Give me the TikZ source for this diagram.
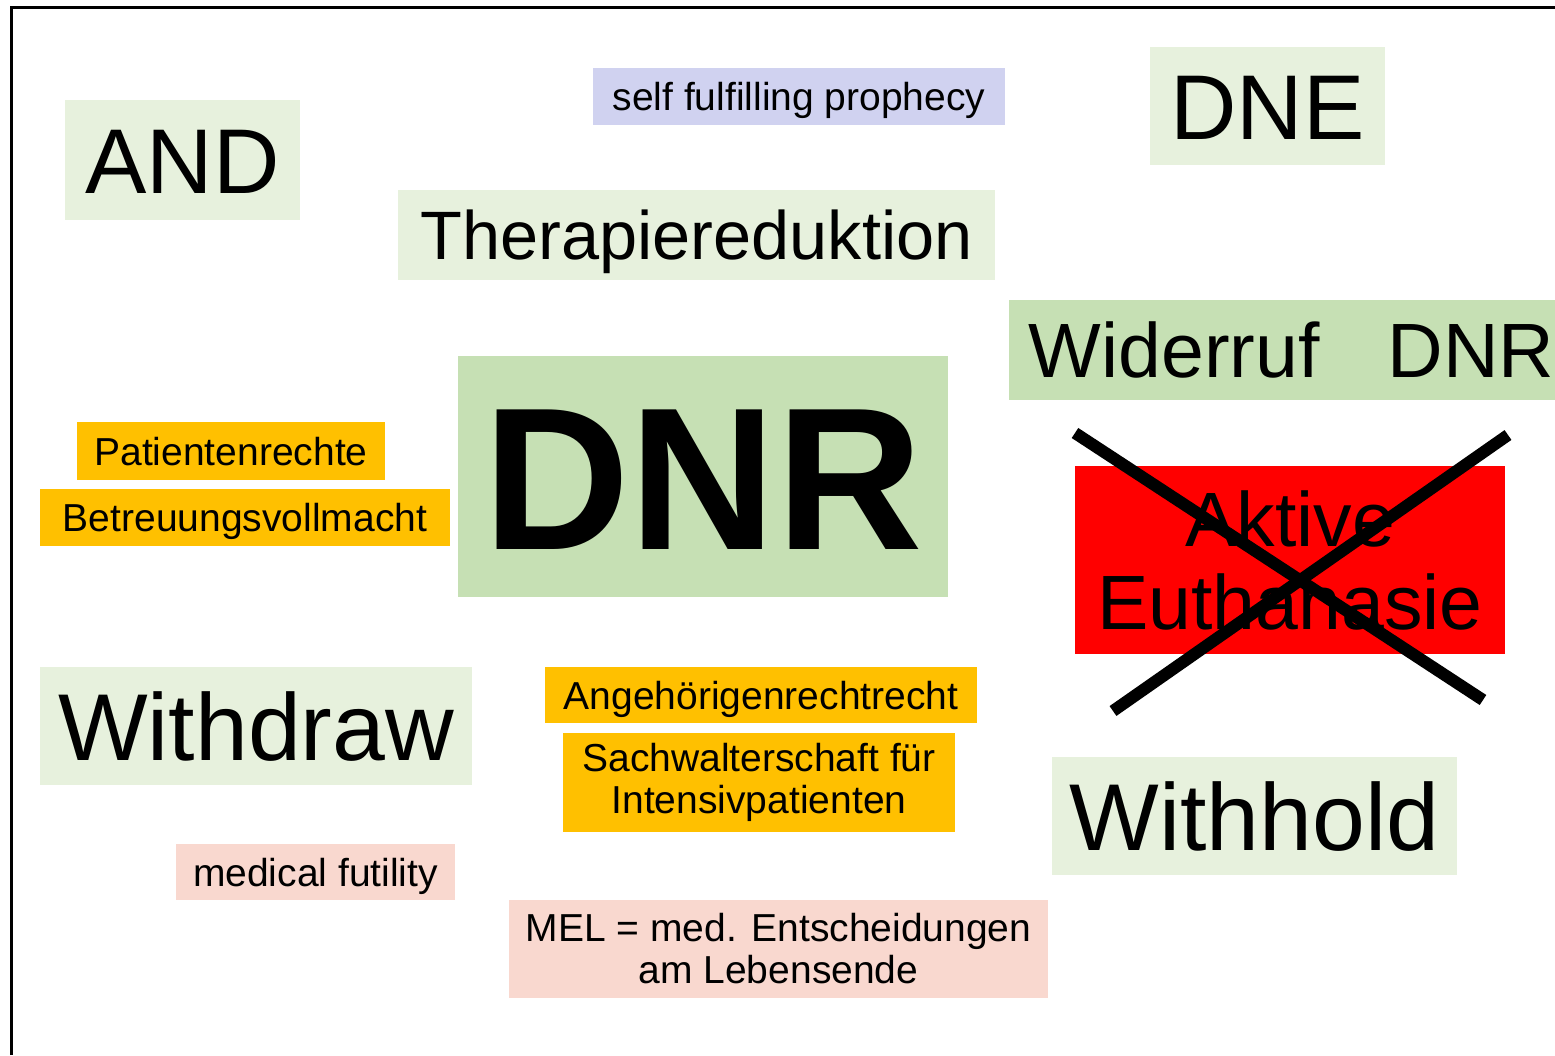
\documentclass[tikz,border=0pt]{standalone}
\usepackage{fontspec}
\setmainfont{Liberation Sans}
\definecolor{palegreen}{RGB}{231, 241, 221}
\definecolor{termgreen}{RGB}{198, 224, 180}
\definecolor{notecolor}{RGB}{208, 210, 240}
\definecolor{lawcolor}{RGB}{255, 192, 0}
\definecolor{pinkcolor}{RGB}{249, 216, 207}
\definecolor{forbidcolor}{RGB}{255, 0, 0}

\begin{document}
\begin{tikzpicture}[
    tag/.style={rectangle, inner sep=0pt, align=center},
    oneline/.style={text height=#1, text depth=0pt},
    bigtag/.style={tag, oneline=0.67cm, fill=palegreen, font=\fontsize{0.92cm}{1cm}\selectfont},
    smalltag/.style={tag, font=\fontsize{0.39cm}{0.42cm}\selectfont},
    cross/.style={line width=0.12cm}
]
\useasboundingbox (0, 0) rectangle (15.55, 10.55);

% Frame
\draw[line width=0.03cm] (0.12, 0) |- (15.55, 10.48);

% Top row
\node[bigtag, minimum width=2.35cm, minimum height=1.2cm] (and) at (1.825, 8.95) {AND};
\node[smalltag, oneline=0.28cm, fill=notecolor, minimum width=4.12cm, minimum height=0.57cm] (prophecy) at (7.99, 9.585) {self fulfilling prophecy};
\node[bigtag, minimum width=2.35cm, minimum height=1.18cm] (dne) at (12.675, 9.49) {DNE};
\node[tag, oneline=0.49cm, fill=palegreen, font=\fontsize{0.685cm}{0.8cm}\selectfont, minimum width=5.97cm, minimum height=0.9cm] (reduktion) at (6.965, 8.2) {Therapiereduktion};
\node[tag, oneline=0.55cm, fill=termgreen, font=\fontsize{0.77cm}{0.9cm}\selectfont, anchor=west, inner xsep=0.2cm, minimum height=1cm] (widerruf) at (10.08, 7.05) {Widerruf\hspace{0.68cm}DNR};

% Centre
\node[tag, oneline=1.45cm, fill=termgreen, font=\fontsize{2.03cm}{2.2cm}\selectfont\bfseries, minimum width=4.9cm, minimum height=2.41cm] (dnr) at (7.03, 5.785) {DNR};

% Rights
\node[smalltag, oneline=0.28cm, fill=lawcolor, minimum width=3.08cm, minimum height=0.58cm] (patient) at (2.31, 6.04) {Patientenrechte};
\node[smalltag, oneline=0.28cm, fill=lawcolor, minimum width=4.1cm, minimum height=0.57cm] (vollmacht) at (2.45, 5.375) {Betreuungsvollmacht};
\node[smalltag, oneline=0.28cm, fill=lawcolor, minimum width=4.32cm, minimum height=0.56cm] (angeh) at (7.61, 3.6) {Angehörigenrechtrecht};
\node[smalltag, fill=lawcolor, minimum width=3.92cm, minimum height=0.99cm] (sachwalter) at (7.59, 2.725) {Sachwalterschaft für\\Intensivpatienten};

% Euthanasia, crossed out
\node[tag, fill=forbidcolor, font=\fontsize{0.77cm}{0.83cm}\selectfont, minimum width=4.3cm, minimum height=1.88cm] (euthanasie) at (12.9, 4.95) {Aktive\\Euthanasie};
\coordinate (crossA) at (10.75, 6.22);
\coordinate (crossB) at (14.83, 3.55);
\coordinate (crossC) at (15.08, 6.2);
\coordinate (crossD) at (11.13, 3.44);
\draw[cross] (crossA) -- (crossB);
\draw[cross] (crossC) -- (crossD);

% Bottom row
\node[bigtag, oneline=0.68cm, font=\fontsize{0.95cm}{1cm}\selectfont, minimum width=4.32cm, minimum height=1.18cm] (withdraw) at (2.56, 3.29) {Withdraw};
\node[bigtag, oneline=0.68cm, font=\fontsize{0.95cm}{1cm}\selectfont, minimum width=4.05cm, minimum height=1.18cm] (withhold) at (12.545, 2.39) {Withhold};
\node[smalltag, oneline=0.28cm, fill=pinkcolor, minimum width=2.79cm, minimum height=0.56cm] (futility) at (3.155, 1.83) {medical futility};
\node[smalltag, fill=pinkcolor, minimum width=5.39cm, minimum height=0.98cm] (mel) at (7.785, 1.06) {MEL = med. Entscheidungen\\am Lebensende};

\end{tikzpicture}
\end{document}
